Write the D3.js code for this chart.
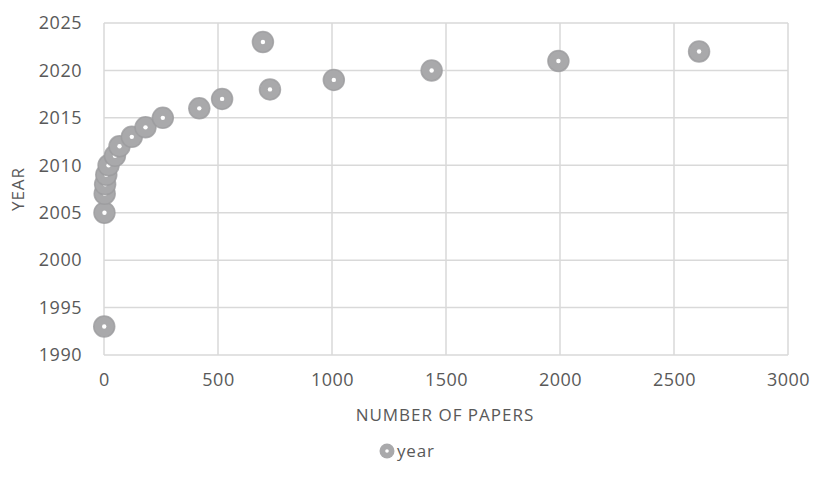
<!DOCTYPE html>
<html>
<head>
<meta charset="utf-8">
<script src="https://cdn.jsdelivr.net/npm/d3@7"></script>
<style>
  html, body { margin: 0; padding: 0; background: #fff; }
  svg { display: block; }
</style>
</head>
<body>
<svg id="chart" width="813" height="486"></svg>
<script>
// Number of papers published per year
const years  = [1993, 2005, 2007, 2008, 2009, 2010, 2011, 2012, 2013, 2014, 2015, 2016, 2017, 2018, 2019, 2020, 2021, 2022, 2023];
const papers = [1,    2,    3,    5,    10,   20,   48,   68,   122,  182,  258,  418,  518,  728,  1008, 1437, 1993, 2610, 697];
const xTicks = [0, 500, 1000, 1500, 2000, 2500, 3000];
const yTicks = [1990, 1995, 2000, 2005, 2010, 2015, 2020, 2025];
const seriesName = "year";
const xTitle = "NUMBER OF PAPERS";
const yTitle = "YEAR";

const svg = d3.select("#chart");
const font = "'Open Sans', 'Segoe UI', sans-serif";
const textColor = "#595959";
const gridColor = "#d9d9d9";
const markerColor = "#a9a9ab";

const x = d3.scaleLinear().domain([0, 3000]).range([104, 788]);
const y = d3.scaleLinear().domain([1990, 2025]).range([355, 23]);

// gridlines
svg.append("g").selectAll("line").data(xTicks).join("line")
  .attr("x1", d => x(d)).attr("x2", d => x(d))
  .attr("y1", y(2025)).attr("y2", y(1990))
  .attr("stroke", gridColor).attr("stroke-width", 1.5);
svg.append("g").selectAll("line").data(yTicks).join("line")
  .attr("x1", x(0)).attr("x2", x(3000))
  .attr("y1", d => y(d)).attr("y2", d => y(d))
  .attr("stroke", gridColor).attr("stroke-width", 1.5);

// axes (labels only)
const xAxis = svg.append("g").attr("transform", `translate(0,${y(1990)})`)
  .call(d3.axisBottom(x).tickValues(xTicks).tickSize(0).tickPadding(18).tickFormat(d3.format("d")));
const yAxis = svg.append("g").attr("transform", `translate(${x(0)},0)`)
  .call(d3.axisLeft(y).tickValues(yTicks).tickSize(0).tickPadding(22).tickFormat(d3.format("d")));
[xAxis, yAxis].forEach(a => {
  a.select(".domain").remove();
  a.selectAll("text").attr("fill", textColor).style("font-family", font)
    .style("font-size", "18px").style("letter-spacing", "0.5px");
});

// axis titles
svg.append("text").attr("x", 445).attr("y", 421).attr("text-anchor", "middle")
  .attr("fill", textColor).style("font-family", font).style("font-size", "17px")
  .style("letter-spacing", "1px").text(xTitle);
svg.append("text").attr("transform", `translate(24,${(y(1990) + y(2025)) / 2}) rotate(-90)`)
  .attr("text-anchor", "middle").attr("fill", textColor)
  .style("font-family", font).style("font-size", "17px").style("letter-spacing", "1px").text(yTitle);

// markers
const pts = years.map((yr, i) => ({ yr, n: papers[i] }));
const marker = (g) => {
  g.append("circle").attr("r", 10.5).attr("fill", markerColor)
    .attr("stroke", "#9b9b9d").attr("stroke-opacity", 0.8).attr("stroke-width", 1.5);
  g.append("circle").attr("r", 2.2).attr("fill", "#fff");
};
svg.append("g").selectAll("g").data(pts).join("g")
  .attr("transform", d => `translate(${x(d.n)},${y(d.yr)})`)
  .each(function () { marker(d3.select(this)); });

// legend
const lg = svg.append("g").attr("transform", "translate(387,451)");
lg.append("circle").attr("r", 7.5).attr("fill", markerColor);
lg.append("circle").attr("r", 1.8).attr("fill", "#fff");
lg.append("text").attr("x", 10).attr("y", 6).attr("fill", textColor)
  .style("font-family", font).style("font-size", "17px").style("letter-spacing", "0.8px").text(seriesName);
</script>
</body>
</html>
